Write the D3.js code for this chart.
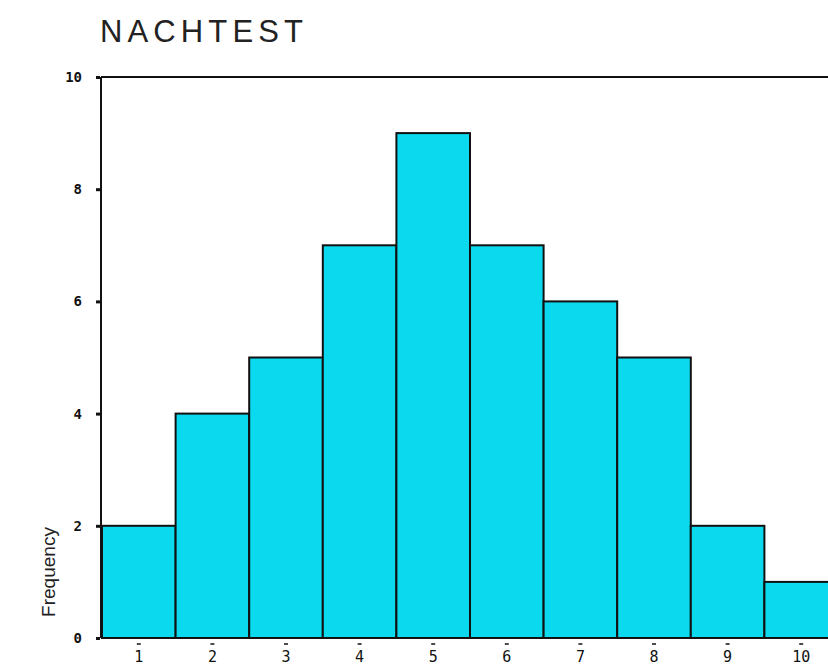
<!DOCTYPE html>
<html><head><meta charset="utf-8">
<script src="https://cdn.jsdelivr.net/npm/d3@7"></script>
<style>body{margin:0;background:#fff;}svg{display:block;}</style>
</head><body>
<script>
const categories = ["1","2","3","4","5","6","7","8","9","10"];
const frequencies = [2,4,5,7,9,7,6,5,2,1];
const yTicks = [0,2,4,6,8,10];
const title = "NACHTEST";
const yLabel = "Frequency";

const W = 828, H = 666;
const svg = d3.select("body").append("svg").attr("width", W).attr("height", H);

const x0 = 102, binW = 73.6;
const x = d3.scaleBand().domain(categories).range([x0, x0 + binW*categories.length]).padding(0);
const y = d3.scaleLinear().domain([0,10]).range([638, 77]);

// bars
svg.append("g").selectAll("rect").data(frequencies).join("rect")
  .attr("x", (d,i)=>x(categories[i]))
  .attr("y", d=>y(d))
  .attr("width", x.bandwidth())
  .attr("height", d=>y(0)-y(d))
  .attr("fill", "#0bd9ee")
  .attr("stroke", "#111")
  .attr("stroke-width", 2);

// frame lines
svg.append("line").attr("x1",101).attr("x2",W).attr("y1",y(10)).attr("y2",y(10)).attr("stroke","#111").attr("stroke-width",2);
svg.append("line").attr("x1",101).attr("x2",W).attr("y1",y(0)).attr("y2",y(0)).attr("stroke","#111").attr("stroke-width",2);
svg.append("line").attr("x1",101).attr("x2",101).attr("y1",y(10)).attr("y2",y(0)).attr("stroke","#111").attr("stroke-width",2);

// y axis ticks + labels
const yAxis = d3.axisLeft(y).tickValues(yTicks).tickSize(4).tickPadding(14);
const gy = svg.append("g").attr("transform","translate(100,0)").call(yAxis);
gy.select(".domain").remove();
gy.selectAll(".tick line").attr("stroke","#111").attr("stroke-width",3);
gy.selectAll("text").attr("font-family","DejaVu Sans Mono, monospace").attr("font-size",14).attr("font-weight","bold").attr("fill","#111");

// x axis ticks + labels
const xAxis = d3.axisBottom(x).tickSize(0).tickPadding(12);
const gx = svg.append("g").attr("transform","translate(0,639)").call(xAxis);
gx.select(".domain").remove();
gx.selectAll(".tick").append("line").attr("x1",-2).attr("x2",2).attr("y1",5).attr("y2",5).attr("stroke","#111").attr("stroke-width",1.5);
gx.selectAll("text").attr("font-family","DejaVu Sans Mono, monospace").attr("font-size",15).attr("fill","#111");

// title
svg.append("text").attr("x",100).attr("y",42).text(title)
  .attr("font-family","Liberation Sans, Arial, sans-serif").attr("font-size",31)
  .attr("textLength",203).attr("lengthAdjust","spacing").attr("fill","#222");

// y label
svg.append("text").attr("transform","translate(55,572) rotate(-90)").attr("text-anchor","middle")
  .text(yLabel).attr("font-family","Liberation Sans, Arial, sans-serif").attr("font-size",19).attr("fill","#222");
</script>
</body></html>
